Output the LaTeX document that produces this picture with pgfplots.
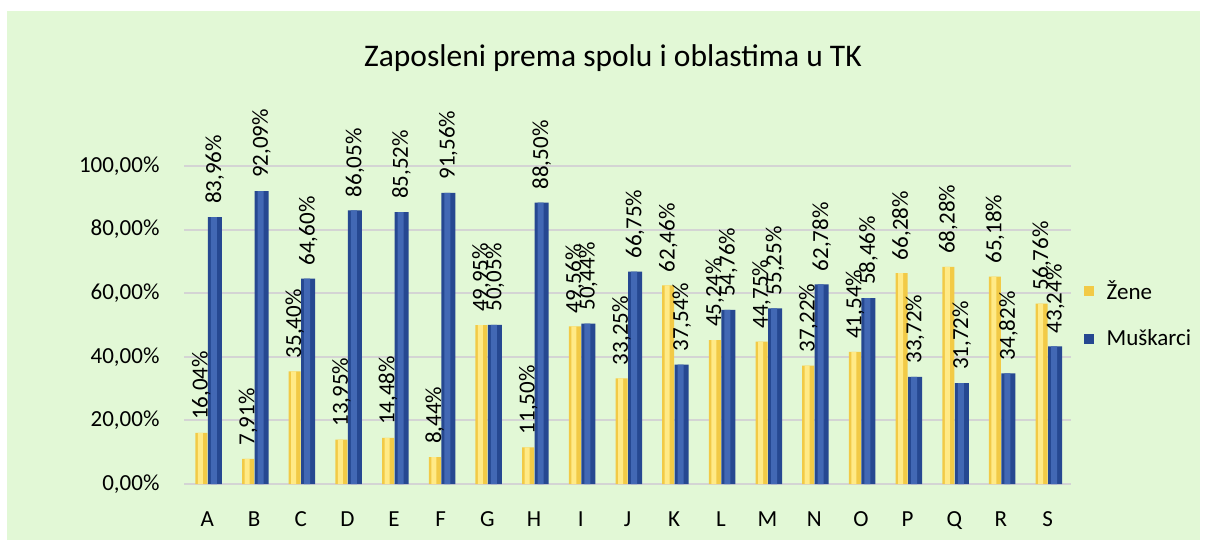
\documentclass[border=0pt]{standalone}
\usepackage{pgfplots}
\usepackage{pgfplotstable}
\pgfplotsset{compat=1.18}
\usepackage{fontspec}
\setmainfont{Carlito}
\definecolor{bgg}{RGB}{226,248,214}
\definecolor{ybase}{RGB}{242,202,70}
\definecolor{ylight}{RGB}{255,234,135}
\definecolor{bbase}{RGB}{38,72,145}
\definecolor{blight}{RGB}{66,104,180}
\definecolor{gridc}{RGB}{212,212,212}
\pgfplotstableread{
x z m
0 16.04 83.96
1 7.91 92.09
2 35.40 64.60
3 13.95 86.05
4 14.48 85.52
5 8.44 91.56
6 49.95 50.05
7 11.50 88.50
8 49.56 50.44
9 33.25 66.75
10 62.46 37.54
11 45.24 54.76
12 44.75 55.25
13 37.22 62.78
14 41.54 58.46
15 66.28 33.72
16 68.28 31.72
17 65.18 34.82
18 56.76 43.24
}\data
\pgfplotsset{
  lbl/.style={
    nodes near coords={\pgfmathprintnumber[fixed,fixed zerofill,precision=2,use comma,assume math mode=true]{\pgfplotspointmeta}\%},
    every node near coord/.append style={rotate=90, anchor=west, inner sep=0pt, xshift=13pt, font=\fontsize{23}{27}\selectfont, text=black},
  }
}
\begin{document}
\begin{tikzpicture}
\fill[white] (0,0) rectangle (1207pt,547pt);
\fill[bgg] (7pt,7pt) rectangle (1200pt,536pt);
\node[font=\fontsize{31.5}{35}\selectfont] at (613pt,489pt) {Zaposleni prema spolu i oblastima u TK};
\begin{axis}[
  at={(184pt,63pt)}, anchor=south west,
  scale only axis, width=887pt, height=318pt,
  xmin=-0.5, xmax=18.5, ymin=0, ymax=100,
  ybar, bar width=12pt,
  clip=false,
  axis line style={draw=none},
  tick style={draw=none},
  ymajorgrids, grid style={draw=gridc, line width=2pt},
  ytick={0,20,40,60,80,100},
  xtick={0,...,18},
  xticklabels={A,B,C,D,E,F,G,H,I,J,K,L,M,N,O,P,Q,R,S},
  /pgf/number format/assume math mode=true,
  yticklabel={\pgfmathprintnumber[fixed,fixed zerofill,precision=2,use comma]{\tick}\%},
  yticklabel style={font=\fontsize{23}{27}\selectfont, xshift=-21pt},
  xticklabel style={font=\fontsize{23}{27}\selectfont, yshift=-20pt},
  legend style={at={(1.014,0.535)}, anchor=west, draw=none, fill=none,
    font=\fontsize{23}{27}\selectfont, row sep=25pt, inner sep=0pt},
  legend cell align=left,
  legend image code/.code={\fill[#1] (0pt,-5pt) rectangle (10pt,5pt); \path (21pt,0pt);},
]
\addplot[draw=none, fill=ybase, bar width=12pt, bar shift=-6pt] table[x=x,y=z]{\data};
\addlegendentry{Žene}
\addplot[draw=none, fill=bbase, bar width=14pt, bar shift=7.5pt] table[x=x,y=m]{\data};
\addlegendentry{Muškarci}
\addplot[draw=none, fill=ylight, bar width=5pt, bar shift=-7pt, forget plot] table[x=x,y=z]{\data};
\addplot[draw=none, fill=blight, bar width=6pt, bar shift=6.5pt, forget plot] table[x=x,y=m]{\data};
\addplot[draw=none, fill=none, bar width=12pt, bar shift=-6pt, lbl, forget plot] table[x=x,y=z]{\data};
\addplot[draw=none, fill=none, bar width=14pt, bar shift=7.5pt, lbl, forget plot] table[x=x,y=m]{\data};
\end{axis}
\end{tikzpicture}
\end{document}
